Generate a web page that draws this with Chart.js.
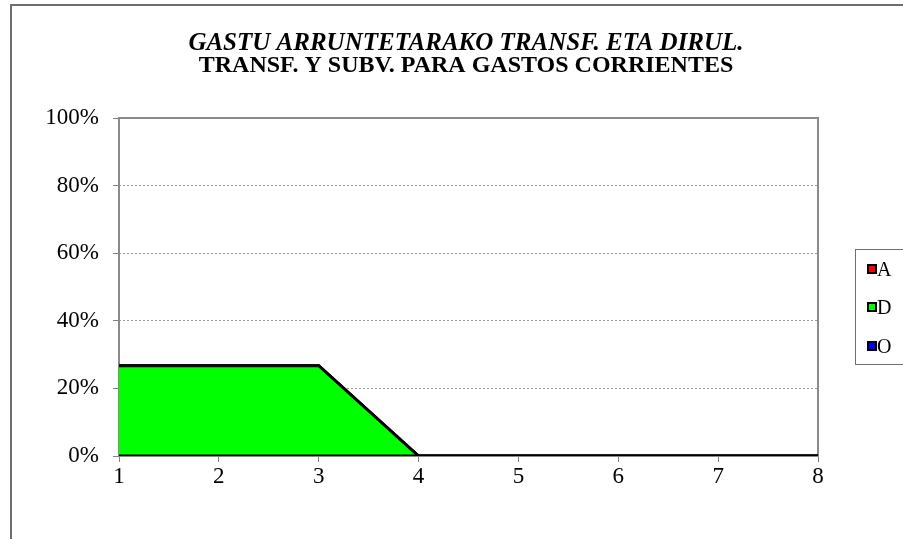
<!DOCTYPE html>
<html>
<head>
<meta charset="utf-8">
<script src="https://cdn.jsdelivr.net/npm/chart.js@4/dist/chart.umd.min.js"></script>
<style>
  html, body { margin: 0; padding: 0; background: #fff; }
  #wrap { width: 903px; height: 539px; position: relative; }
</style>
</head>
<body>
<div id="wrap"><canvas id="c" width="903" height="539"></canvas></div>
<script>
// Categories along the horizontal axis
const categories = ['1', '2', '3', '4', '5', '6', '7', '8'];
// Shares per series (%), stacked
const seriesA = [0, 0, 0, 0, 0, 0, 0, 0];
const seriesD = [26.7, 26.7, 26.7, 0, 0, 0, 0, 0];
const seriesO = [0, 0, 0, 0, 0, 0, 0, 0];
const seriesNames = ['A', 'D', 'O'];
const seriesColors = ['#ff0000', '#00ff00', '#0000ff'];
// Vertical axis ticks
const yTicks = [0, 20, 40, 60, 80, 100];
const titleLines = ['GASTU ARRUNTETARAKO TRANSF. ETA DIRUL.', 'TRANSF. Y SUBV. PARA GASTOS CORRIENTES'];

const SERIF = '"Liberation Serif", "Times New Roman", serif';

// Outer frame, plot frame, title and legend
const decor = {
  id: 'decor',
  beforeDraw(chart) {
    const ctx = chart.ctx;
    ctx.save();
    ctx.fillStyle = '#fff';
    ctx.fillRect(0, 0, chart.width, chart.height);
    ctx.strokeStyle = '#6e6e6e';
    ctx.lineWidth = 2;
    ctx.beginPath();
    ctx.moveTo(11, 545);
    ctx.lineTo(11, 5);
    ctx.lineTo(910, 5);
    ctx.stroke();
    ctx.restore();
  },
  beforeDatasetsDraw(chart) {
    const ctx = chart.ctx;
    const a = chart.chartArea;
    ctx.save();
    ctx.strokeStyle = '#8a8a8a';
    ctx.lineWidth = 2;
    ctx.strokeRect(a.left, a.top, a.right - a.left, a.bottom - a.top);
    ctx.restore();
  },
  afterDraw(chart) {
    const ctx = chart.ctx;
    ctx.save();
    ctx.fillStyle = '#000';
    ctx.textAlign = 'center';
    ctx.textBaseline = 'alphabetic';
    ctx.font = 'italic bold 25px ' + SERIF;
    ctx.fillText(titleLines[0], 466, 50);
    ctx.font = 'bold 24px ' + SERIF;
    ctx.fillText(titleLines[1], 466, 72);

    // legend
    ctx.strokeStyle = '#6e6e6e';
    ctx.lineWidth = 1;
    ctx.strokeRect(855.5, 249.5, 60, 115);
    ctx.font = '20px ' + SERIF;
    ctx.textAlign = 'left';
    const rows = [269, 307, 346];
    seriesNames.forEach((n, i) => {
      const cy = rows[i];
      ctx.fillStyle = '#000';
      ctx.fillRect(867, cy - 5, 10, 10);
      ctx.fillStyle = seriesColors[i];
      ctx.fillRect(869, cy - 3, 6, 6);
      ctx.fillStyle = '#000';
      ctx.fillText(n, 877, cy + 7);
    });
    ctx.restore();
  }
};

const series = [seriesA, seriesD, seriesO];
const datasets = series.map((vals, i) => ({
  label: seriesNames[i],
  data: vals,
  backgroundColor: seriesColors[i],
  borderColor: '#000',
  borderWidth: 3,
  fill: i === 0 ? 'origin' : '-1',
  pointRadius: 0,
  pointHoverRadius: 0,
  tension: 0
}));

new Chart(document.getElementById('c'), {
  type: 'line',
  data: { labels: categories, datasets },
  options: {
    responsive: false,
    animation: false,
    events: [],
    layout: { padding: { top: 118, right: 85, bottom: 43, left: 0 } },
    plugins: { legend: { display: false }, title: { display: false }, tooltip: { enabled: false } },
    scales: {
      x: {
        offset: false,
        grid: { drawOnChartArea: false, drawTicks: true, tickLength: 6, color: '#808080', tickColor: '#808080', tickWidth: 1 },
        border: { display: false },
        ticks: { color: '#000', font: { family: SERIF, size: 23 }, padding: 1, maxRotation: 0 },
        afterFit(s) { s.height = 40; }
      },
      y: {
        stacked: true,
        min: 0,
        max: 100,
        afterBuildTicks(s) { s.ticks = yTicks.map(v => ({ value: v })); },
        grid: { color: '#9a9a9a', lineWidth: 1, tickLength: 6, tickColor: '#808080', tickBorderDash: [] },
        border: { display: false, dash: [2, 2] },
        ticks: { color: '#000', font: { family: SERIF, size: 23 }, padding: 14, callback: v => v + '%' },
        afterFit(s) { s.width = 119; }
      }
    }
  },
  plugins: [decor]
});
</script>
</body>
</html>
